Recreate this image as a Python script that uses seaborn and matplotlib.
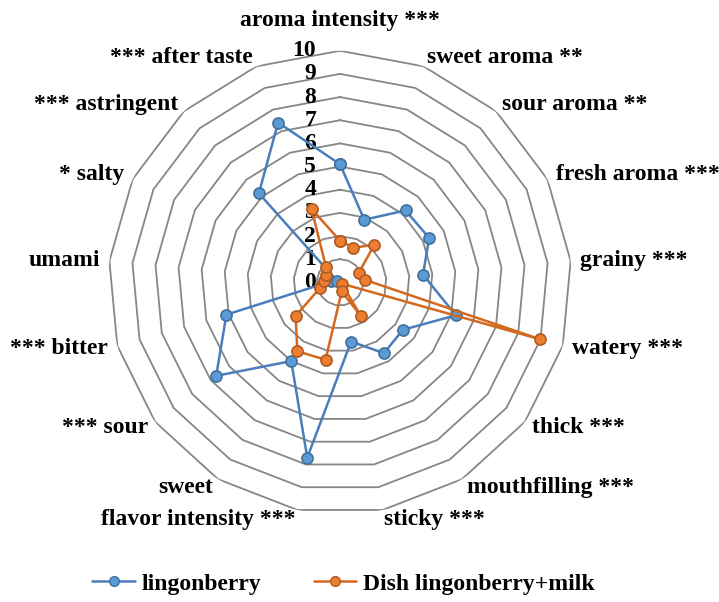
import numpy as np
import pandas as pd
import seaborn as sns
import matplotlib
matplotlib.use("Agg")
import matplotlib.pyplot as plt
from matplotlib.transforms import offset_copy
from matplotlib.lines import Line2D

# sensory attributes, clockwise from top
attributes = [
    "aroma intensity ***", "sweet aroma **", "sour aroma **", "fresh aroma ***",
    "grainy ***", "watery ***", "thick ***", "mouthfilling ***", "sticky ***",
    "flavor intensity ***", "sweet", "*** sour", "*** bitter", "umami",
    "* salty", "*** astringent", "*** after taste",
]
lingonberry = [5.1, 2.9, 4.2, 4.3, 3.6, 5.2, 3.4, 3.6, 2.6, 7.7, 4.0, 6.7, 5.1, 0.4, 0.15, 5.2, 7.4]
dish = [1.8, 1.6, 2.2, 0.9, 1.1, 9.0, 0.1, 1.7, 0.4, 3.4, 3.5, 2.4, 0.9, 0.7, 0.7, 0.9, 3.4]
series_names = ["lingonberry", "Dish lingonberry+milk"]
levels = list(range(0, 11))

line_colors = {"lingonberry": "#4a7ebb", "Dish lingonberry+milk": "#d2691e"}
face_colors = {"lingonberry": "#5b9bd5", "Dish lingonberry+milk": "#ed7d31"}
edge_colors = {"lingonberry": "#41719c", "Dish lingonberry+milk": "#ae5a21"}

sns.set_style("white")
plt.rcParams["font.family"] = ["Liberation Serif", "DejaVu Serif"]
plt.rcParams["font.weight"] = "bold"
plt.rcParams["text.color"] = "black"

n = len(attributes)
angles = np.arange(n) * 2 * np.pi / n

# long table, each loop closed at 2*pi
rows = []
for name, vals in zip(series_names, [lingonberry, dish]):
    for i in range(n):
        rows.append({"angle": angles[i], "value": vals[i], "series": name})
    rows.append({"angle": 2 * np.pi, "value": vals[0], "series": name})
df = pd.DataFrame(rows)

fig = plt.figure(figsize=(7.19, 6.02), dpi=100)
ax = fig.add_axes([0.1508, 0.1463, 0.6442, 0.7694], projection="polar")
ax.set_theta_zero_location("N")
ax.set_theta_direction(-1)
ax.set_ylim(0, 10)
ax.grid(False)
ax.spines["polar"].set_visible(False)
ax.set_xticks([])
ax.set_yticks([])

# polygon gridlines
poly_angles = np.append(angles, 2 * np.pi)
for lv in levels[1:]:
    ax.plot(poly_angles, [lv] * len(poly_angles), color="#868686", lw=1.3, zorder=1)

for name in series_names:
    sub = df[df["series"] == name]
    sns.lineplot(data=sub, x="angle", y="value", sort=False, ax=ax,
                 color=line_colors[name], lw=1.8, marker="o", markersize=8,
                 markerfacecolor=face_colors[name], markeredgecolor=edge_colors[name],
                 markeredgewidth=1.2, legend=False, zorder=3)

ax.set_xlabel("")
ax.set_ylabel("")

# radial tick labels along the top axis
tick_tr = offset_copy(ax.transData, fig=fig, x=-24, y=0, units="dots")
for lv in levels:
    ax.text(0, lv, str(lv), transform=tick_tr, ha="right", va="center",
            fontsize=17, fontweight="bold", color="black", zorder=2)

# category labels
for ang, lab in zip(angles, attributes):
    s = np.sin(ang)
    if abs(s) < 1e-6:
        ax.text(ang, 11.3, lab, ha="center", va="center", fontsize=17,
                fontweight="bold", clip_on=False)
    else:
        ax.text(ang, 10.4, lab, ha="left" if s > 0 else "right", va="center",
                fontsize=17, fontweight="bold", clip_on=False)

handles = [Line2D([0], [0], color=line_colors[nm], lw=1.8, marker="o", markersize=7,
                  markerfacecolor=face_colors[nm], markeredgecolor=edge_colors[nm])
           for nm in series_names]
fig.legend(handles, series_names, loc="center", bbox_to_anchor=(0.478, 0.03), ncol=2,
           frameon=False, handlelength=1.8, columnspacing=2.2,
           handletextpad=0.3, prop={"weight": "bold", "size": 17})

fig.savefig("out.png", dpi=100)
plt.close(fig)
